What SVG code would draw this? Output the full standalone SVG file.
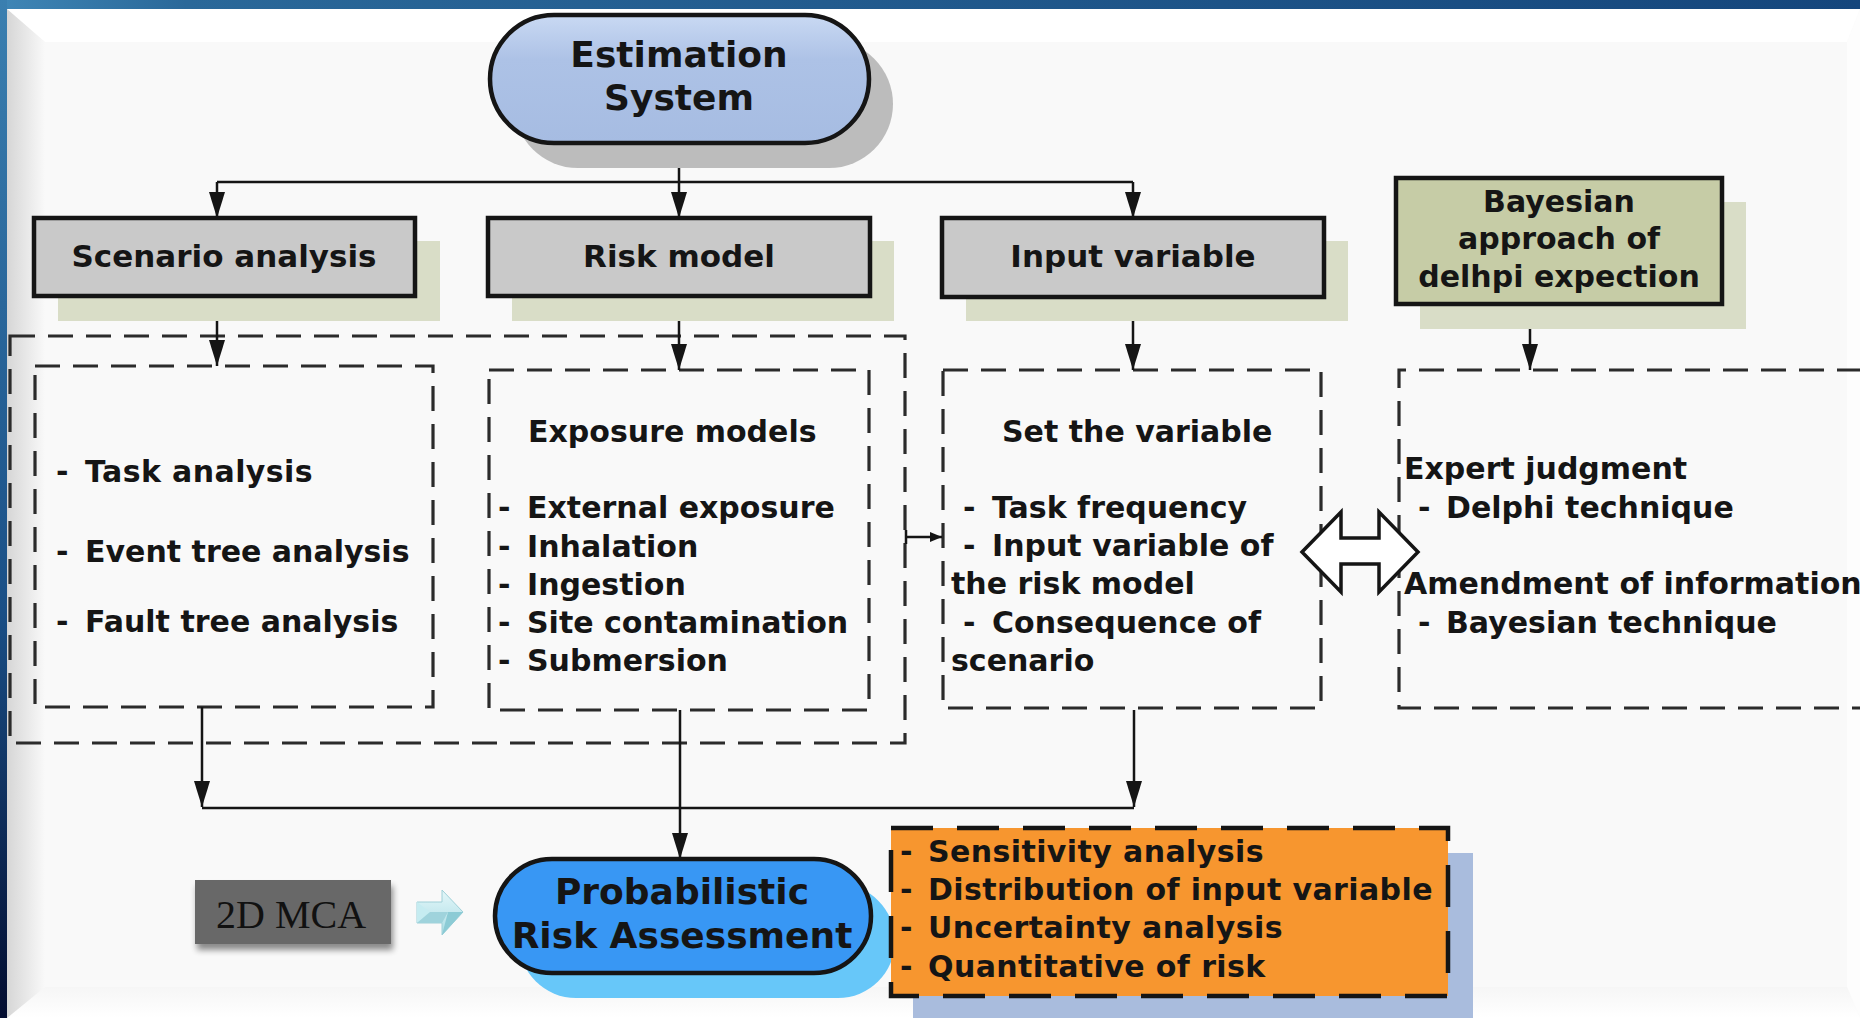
<svg xmlns="http://www.w3.org/2000/svg" width="1860" height="1018" viewBox="0 0 1860 1018">
<defs>
<style>
.t{font-family:"DejaVu Sans",Verdana,sans-serif;font-weight:bold;fill:#151515}
.s30{font-size:30px}
.s31{font-size:31px}
.s36{font-size:36px}
.ls{letter-spacing:0.4px}
.mid{text-anchor:middle}
.dash{fill:none;stroke:#2b2b2b;stroke-width:3.2;stroke-dasharray:25 13}
.con{fill:none;stroke:#151515;stroke-width:2.5}
.box{stroke:#151515;stroke-width:4.5}
</style>
<linearGradient id="topbar" x1="0" y1="0" x2="1" y2="0">
<stop offset="0" stop-color="#3f86b6"/><stop offset="0.1" stop-color="#2a6899"/><stop offset="1" stop-color="#15467c"/>
</linearGradient>
<linearGradient id="leftbar" x1="0" y1="0" x2="0" y2="1">
<stop offset="0" stop-color="#3a7fb0"/><stop offset="0.6" stop-color="#1a4f86"/><stop offset="1" stop-color="#030d30"/>
</linearGradient>
<linearGradient id="leftbevel" x1="0" y1="0" x2="1" y2="0">
<stop offset="0" stop-color="#d6d6d6"/><stop offset="1" stop-color="#f9f9f9"/>
</linearGradient>
<linearGradient id="botbevel" x1="0" y1="0" x2="0" y2="1">
<stop offset="0" stop-color="#f6f6f6"/><stop offset="1" stop-color="#ffffff"/>
</linearGradient>
<linearGradient id="estg" x1="0" y1="0" x2="0" y2="1">
<stop offset="0" stop-color="#c9d9f3"/><stop offset="0.35" stop-color="#adc2e6"/><stop offset="1" stop-color="#a6bce2"/>
</linearGradient>
<linearGradient id="cyan" x1="0" y1="0" x2="0" y2="1">
<stop offset="0" stop-color="#e4f7f9"/><stop offset="1" stop-color="#a9dce4"/>
</linearGradient>
<filter id="soft" x="-20%" y="-20%" width="140%" height="160%">
<feGaussianBlur in="SourceAlpha" stdDeviation="3"/>
<feOffset dx="2" dy="6" result="b"/>
<feComponentTransfer><feFuncA type="linear" slope="0.45"/></feComponentTransfer>
<feMerge><feMergeNode/><feMergeNode in="SourceGraphic"/></feMerge>
</filter>
<marker id="ah" viewBox="0 0 26 16" refX="26" refY="8" markerWidth="26" markerHeight="16" markerUnits="userSpaceOnUse" orient="auto">
<path d="M0,0 L26,8 L0,16 z" fill="#151515"/>
</marker>
<marker id="ahs" viewBox="0 0 12 10" refX="12" refY="5" markerWidth="12" markerHeight="10" markerUnits="userSpaceOnUse" orient="auto">
<path d="M0,0 L12,5 L0,10 z" fill="#151515"/>
</marker>
</defs>

<g id="background">
<rect x="0" y="0" width="1860" height="1018" fill="#f9f9f9"/>
<polygon points="7,9 1860,9 1847,42 45,42" fill="#ffffff"/>
<polygon points="1860,9 1860,1018 1847,987 1847,42" fill="#fdfdfd"/>
<polygon points="7,1018 1860,1018 1847,987 45,987" fill="url(#botbevel)"/>
<polygon points="7,9 45,42 45,987 7,1018" fill="url(#leftbevel)"/>
<rect x="0" y="0" width="1860" height="9" fill="url(#topbar)"/>
<rect x="0" y="0" width="7" height="1018" fill="url(#leftbar)"/>
</g>

<g id="dashed-frames">
<rect class="dash" x="10" y="336" width="895" height="407"/>
<rect class="dash" x="35" y="366" width="398" height="341"/>
<rect class="dash" x="489" y="370" width="380" height="340"/>
<rect class="dash" x="943" y="370" width="378" height="338"/>
<path class="dash" d="M1862,370 H1399 V708 H1862"/>
</g>

<g id="connectors">
<path class="con" d="M679,143 V218" marker-end="url(#ah)"/>
<path class="con" d="M217,182 H1133"/>
<path class="con" d="M217,182 V218" marker-end="url(#ah)"/>
<path class="con" d="M1133,182 V218" marker-end="url(#ah)"/>
<path class="con" d="M217,296 V366" marker-end="url(#ah)"/>
<path class="con" d="M679,296 V370" marker-end="url(#ah)"/>
<path class="con" d="M1133,297 V370" marker-end="url(#ah)"/>
<path class="con" d="M1530,304 V370" marker-end="url(#ah)"/>
<path class="con" d="M906,530 V544"/>
<path class="con" d="M906,537 H942" marker-end="url(#ahs)"/>
<path class="con" d="M202,707 V807" marker-end="url(#ah)"/>
<path class="con" d="M1134,710 V807" marker-end="url(#ah)"/>
<path class="con" d="M202,808 H1134"/>
<path class="con" d="M680,710 V859" marker-end="url(#ah)"/>
<polygon points="1302,552 1341,512 1341,538 1379,538 1379,512 1418,552 1379,592 1379,564 1341,564 1341,592" fill="#ffffff" stroke="#151515" stroke-width="3.5" stroke-linejoin="miter"/>
<g id="mca-arrow">
<polygon points="417,902 442,902 442,890 463,912 442,935 442,923 417,923" fill="url(#cyan)" stroke="#9fd0d8" stroke-width="1"/>
<polygon points="417,902 430,912 417,923" fill="#c6ecf1"/>
<polygon points="430,912 448,912 442,923 417,923" fill="#9fd3dc"/>
<polygon points="448,912 463,912 442,935" fill="#8ccbd5"/>
</g>
</g>

<g id="node-estimation">
<rect x="514" y="40" width="379" height="128" rx="64" fill="#bcbcbc"/>
<rect class="box" x="490" y="15" width="379" height="128" rx="64" fill="url(#estg)" stroke-width="3.5"/>
<text class="t s36 mid" x="679" y="67">Estimation</text>
<text class="t s36 mid" x="679" y="110">System</text>
</g>

<g id="node-scenario">
<rect x="58" y="241" width="382" height="80" fill="#d9ddc7"/>
<rect class="box" x="34" y="218" width="381" height="78" fill="#c9c9c9"/>
<text class="t s31 mid" x="224" y="267">Scenario analysis</text>
</g>

<g id="node-risk">
<rect x="512" y="241" width="382" height="80" fill="#d9ddc7"/>
<rect class="box" x="488" y="218" width="382" height="78" fill="#c9c9c9"/>
<text class="t s31 mid" x="679" y="267">Risk model</text>
</g>

<g id="node-input">
<rect x="966" y="241" width="382" height="80" fill="#d9ddc7"/>
<rect class="box" x="942" y="218" width="382" height="79" fill="#c9c9c9"/>
<text class="t s31 mid" x="1133" y="267">Input variable</text>
</g>

<g id="node-bayesian">
<rect x="1420" y="202" width="326" height="127" fill="#d9ddc7"/>
<rect class="box" x="1396" y="178" width="326" height="126" fill="#c6cca6"/>
<text class="t s30 mid" x="1559" y="212">Bayesian</text>
<text class="t s30 mid" x="1559" y="249">approach of</text>
<text class="t s30 mid" x="1559" y="287">delhpi expection</text>
</g>

<g id="node-scenario-detail">
<text class="t s30 ls" y="482"><tspan x="56">- </tspan><tspan x="85">Task analysis</tspan></text>
<text class="t s30" y="562"><tspan x="56">- </tspan><tspan x="85">Event tree analysis</tspan></text>
<text class="t s30" y="632"><tspan x="56">- </tspan><tspan x="85">Fault tree analysis</tspan></text>
</g>

<g id="node-risk-detail">
<text class="t s30" x="528" y="442">Exposure models</text>
<text class="t s30" y="518"><tspan x="498">- </tspan><tspan x="527">External exposure</tspan></text>
<text class="t s30" y="557"><tspan x="498">- </tspan><tspan x="527">Inhalation</tspan></text>
<text class="t s30" y="595"><tspan x="498">- </tspan><tspan x="527">Ingestion</tspan></text>
<text class="t s30" y="633"><tspan x="498">- </tspan><tspan x="527">Site contamination</tspan></text>
<text class="t s30" y="671"><tspan x="498">- </tspan><tspan x="527">Submersion</tspan></text>
</g>

<g id="node-input-detail">
<text class="t s30" x="1002" y="442">Set the variable</text>
<text class="t s30" y="518"><tspan x="963">- </tspan><tspan x="992">Task frequency</tspan></text>
<text class="t s30" y="556"><tspan x="963">- </tspan><tspan x="992">Input variable of</tspan></text>
<text class="t s30" x="951" y="594">the risk model</text>
<text class="t s30" y="633"><tspan x="963">- </tspan><tspan x="992">Consequence of</tspan></text>
<text class="t s30" x="951" y="671">scenario</text>
</g>

<g id="node-bayesian-detail">
<text class="t s30" x="1404" y="479">Expert judgment</text>
<text class="t s30" y="518"><tspan x="1418">- </tspan><tspan x="1446">Delphi technique</tspan></text>
<text class="t s30" x="1404" y="594">Amendment of information</text>
<text class="t s30" y="633"><tspan x="1418">- </tspan><tspan x="1446">Bayesian technique</tspan></text>
</g>

<g id="node-mca">
<rect x="195" y="880" width="196" height="64" fill="#676767" filter="url(#soft)"/>
<text x="216" y="928" font-family="'Liberation Serif','Times New Roman',serif" font-size="40" fill="#111">2D MCA</text>
</g>

<g id="node-pra">
<rect x="519" y="884" width="376" height="114" rx="57" fill="#67c7f9"/>
<rect class="box" x="495" y="859" width="376" height="114" rx="57" fill="#3897f4" stroke-width="3.5"/>
<text class="t s36 mid" x="682" y="904">Probabilistic</text>
<text class="t s36 mid" x="682" y="948">Risk Assessment</text>
</g>

<g id="node-results">
<rect x="913" y="853" width="560" height="170" fill="#a9bcdd"/>
<rect x="891" y="828" width="557" height="168" fill="#f7962f" stroke="#151515" stroke-width="4.5" stroke-dasharray="42 24"/>
<text class="t s30 ls" y="862"><tspan x="900">- </tspan><tspan x="928">Sensitivity analysis</tspan></text>
<text class="t s30 ls" y="900"><tspan x="900">- </tspan><tspan x="928">Distribution of input variable</tspan></text>
<text class="t s30 ls" y="938"><tspan x="900">- </tspan><tspan x="928">Uncertainty analysis</tspan></text>
<text class="t s30 ls" y="977"><tspan x="900">- </tspan><tspan x="928">Quantitative of risk</tspan></text>
</g>
</svg>
